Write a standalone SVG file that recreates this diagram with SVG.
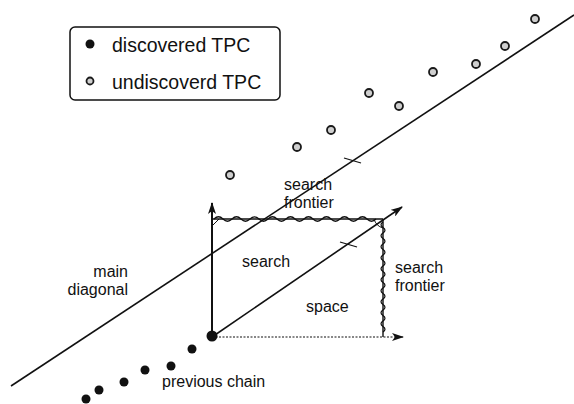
<svg xmlns="http://www.w3.org/2000/svg" width="574" height="404" viewBox="0 0 574 404">
<style>
.t{font-family:"Liberation Sans",Arial,sans-serif;font-size:16px;fill:#111}
.lg{font-size:19.5px}
.ln{stroke:#111;fill:none}
.und{fill:#cfcfcf;stroke:#1a1a1a;stroke-width:1.8}
.dis{fill:#111}
</style>
<defs>
<marker id="ah" markerUnits="userSpaceOnUse" markerWidth="12" markerHeight="8" refX="11" refY="4" orient="auto">
<path d="M0,0 L12,4 L0,8 L3,4 z" fill="#111"/>
</marker>
</defs>
<rect width="574" height="404" fill="#fff"/>
<g id="legend">
<rect x="70" y="27" width="210" height="73" rx="5" fill="none" stroke="#111" stroke-width="1.5"/>
<circle cx="90" cy="44" r="4.5" class="dis"/>
<circle cx="90" cy="81" r="3.5" class="und" stroke-width="1.5"/>
<text x="112" y="52" class="t lg">discovered TPC</text>
<text x="112" y="89" class="t lg">undiscoverd TPC</text>
</g>
<g id="connectors">
<line id="main-diagonal" x1="11" y1="386" x2="574" y2="15" class="ln" stroke-width="1.6"/>
<line x1="344" y1="158" x2="361" y2="163" class="ln" stroke-width="1.3"/>
<line id="y-axis" x1="212" y1="337" x2="212" y2="203" class="ln" stroke-width="2" marker-end="url(#ah)"/>
<line id="x-axis" x1="212" y1="337" x2="403" y2="337" class="ln" stroke-width="1.2" stroke-dasharray="2,1.5" marker-end="url(#ah)"/>
<line id="diag-arrow" x1="212" y1="337" x2="402" y2="207" class="ln" stroke-width="1.6" marker-end="url(#ah)"/>
<line x1="340" y1="242" x2="357" y2="247" class="ln" stroke-width="1.3"/>
<line x1="212" y1="219" x2="383" y2="219" class="ln" stroke-width="1.4"/>
<line x1="383" y1="219" x2="383" y2="337" class="ln" stroke-width="1.4"/>
<path d="M214,219 q4.5,-4.5 9,0 t9,0 t9,0 t9,0 t9,0 t9,0 t9,0 t9,0 t9,0 t9,0 t9,0 t9,0 t9,0 t9,0 t9,0 t9,0 t9,0 t9,0" class="ln" stroke-width="1.2"/>
<path d="M383,222 q-4,2.75 0,5.5 t0,5.5 t0,5.5 t0,5.5 t0,5.5 t0,5.5 t0,5.5 t0,5.5 t0,5.5 t0,5.5 t0,5.5 t0,5.5 t0,5.5 t0,5.5 t0,5.5 t0,5.5 t0,5.5 t0,5.5 t0,5.5 t0,5.5" class="ln" stroke-width="1.2"/>
<path d="M212,226 L219,219" class="ln" stroke-width="1"/>
<path d="M374,219 Q376,226 383,228" class="ln" stroke-width="1"/>
</g>
<g id="undiscovered">
<circle cx="230" cy="175" r="4" class="und"/>
<circle cx="297" cy="147" r="4" class="und"/>
<circle cx="331" cy="130" r="4" class="und"/>
<circle cx="369" cy="93" r="4" class="und"/>
<circle cx="399" cy="106" r="4" class="und"/>
<circle cx="433" cy="72" r="4" class="und"/>
<circle cx="476" cy="64" r="4" class="und"/>
<circle cx="505" cy="46" r="4" class="und"/>
<circle cx="535" cy="19" r="4" class="und"/>
</g>
<g id="chain">
<circle cx="86" cy="399" r="4.5" class="dis"/>
<circle cx="99" cy="390" r="4.5" class="dis"/>
<circle cx="124" cy="382" r="4.5" class="dis"/>
<circle cx="145" cy="370" r="4.5" class="dis"/>
<circle cx="171" cy="366" r="4.5" class="dis"/>
<circle cx="192" cy="349" r="4.5" class="dis"/>
<circle cx="212" cy="336" r="5.5" class="dis"/>
</g>
<g id="labels">
<text x="284" y="190" class="t">search</text>
<text x="284" y="208" class="t">frontier</text>
<text x="395" y="273" class="t">search</text>
<text x="395" y="291" class="t">frontier</text>
<text x="128" y="277" class="t" text-anchor="end">main</text>
<text x="128" y="295" class="t" text-anchor="end">diagonal</text>
<text x="242" y="267" class="t">search</text>
<text x="306" y="312" class="t">space</text>
<text x="162" y="387" class="t">previous chain</text>
</g>
</svg>
